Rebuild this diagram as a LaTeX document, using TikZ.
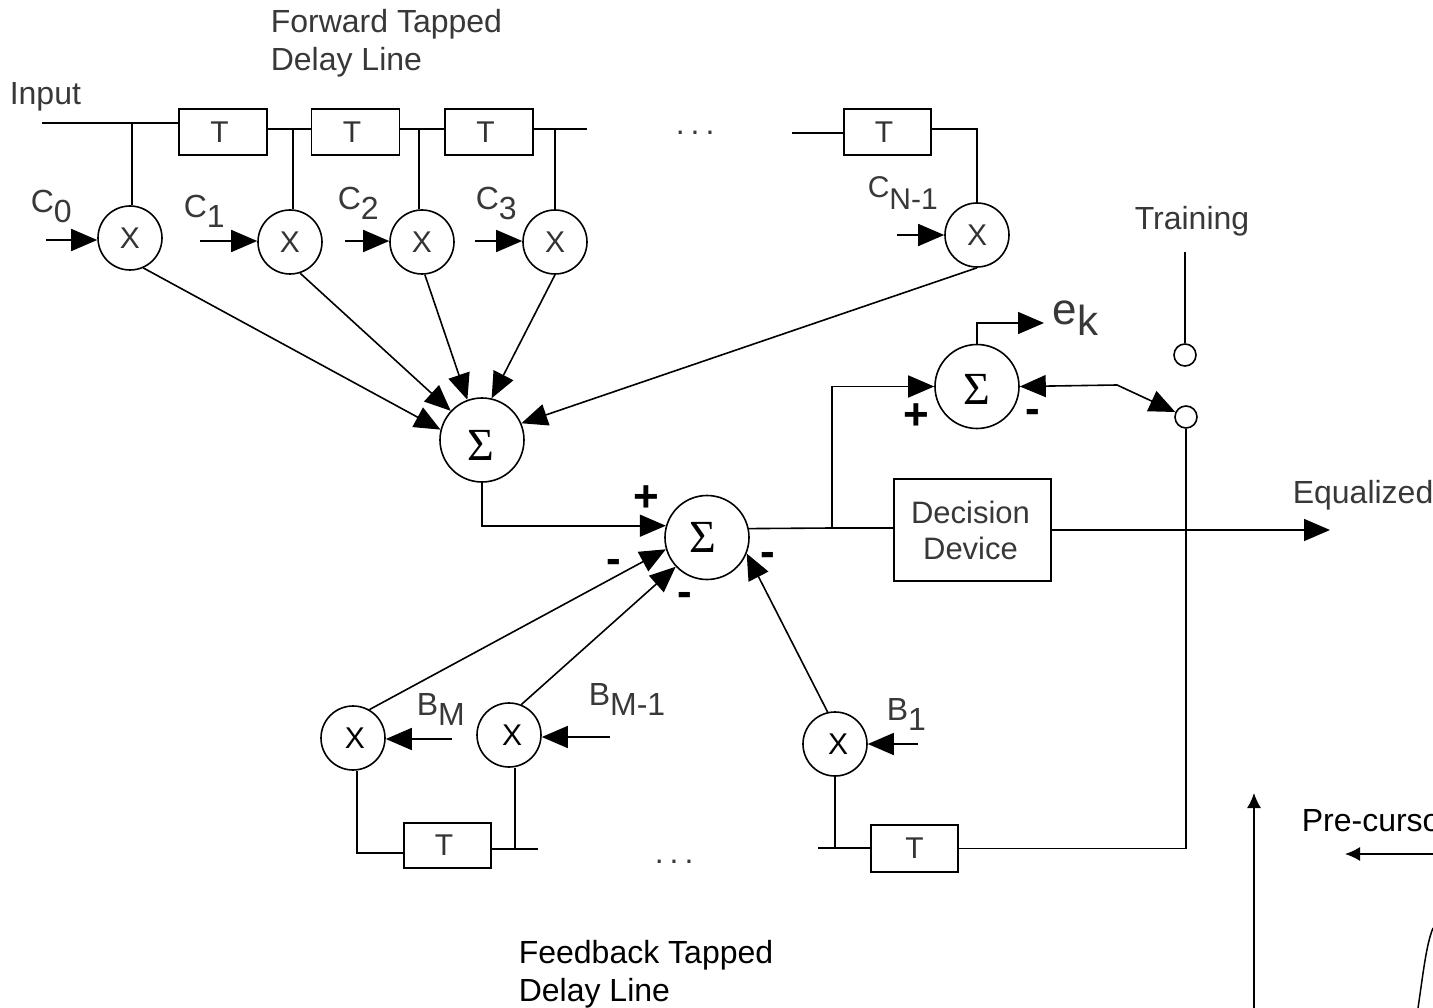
\documentclass[tikz,border=0pt]{standalone}
\usepackage{fontspec}
\setmainfont{Liberation Sans}
\newfontfamily\sigmafont{Liberation Serif}
\usepackage{xcolor}
\usetikzlibrary{arrows.meta,positioning,calc}
\newcommand{\lowr}[2]{#1\raisebox{-10pt}{#2}}
\newcommand{\fsz}[1]{\fontsize{#1}{#1}\selectfont}
\newcommand{\tsym}{T\kern7pt}
\newcommand{\dotrow}{.\kern6pt.\kern6pt.}
\tikzset{
  mulnode/.style={circle, draw, minimum size=64pt, inner sep=0pt, text=black!80, font=\fsz{30}},
  sumnode/.style={circle, draw, minimum size=84pt, inner sep=0pt, font=\sigmafont\fsz{46}},
  delaynode/.style={rectangle, draw, minimum width=88pt, minimum height=46pt, inner sep=0pt, text=black!80, font=\fsz{30}},
  swnode/.style={circle, draw, minimum size=22pt, inner sep=0pt},
  lbl/.style={inner sep=0pt, anchor=base west, text=black!78, font=\fsz{32}},
  blklbl/.style={inner sep=0pt, anchor=base west, text=black, font=\fsz{32}},
  signlbl/.style={inner sep=0pt, font=\bfseries\fsz{44}},
  thinarrow/.style={-{Latex[length=15pt,width=14pt]}, line width=1.5pt}
}
\begin{document}
\begin{tikzpicture}[>={Triangle[length=26pt,width=22pt]}, line width=1.6pt, x=1pt, y=-1pt]
  \clip[use as bounding box] (0,0) rectangle (1433,1008);
  % forward delay line
  \node[delaynode] (ta) at (223,132) {\tsym};
  \node[delaynode] (tb) at (355.5,132) {\tsym};
  \node[delaynode] (tc) at (489,132) {\tsym};
  \node[delaynode, minimum width=87pt] (td) at (887.5,132) {\tsym};
  \coordinate (inp) at (42,123);
  \coordinate (tapa) at (132,123);
  \coordinate (tapb) at (293,129);
  \coordinate (tapc) at (419,129);
  \coordinate (tapd) at (555,129);
  \coordinate (tapn) at (977,129);
  \coordinate (enda) at (587,129);
  \coordinate (endb) at (792,133);
  % forward multipliers
  \node[mulnode] (ma) at (130,238) {X};
  \node[mulnode] (mb) at (290,242) {X};
  \node[mulnode] (mc) at (422,242) {X};
  \node[mulnode] (md) at (555,242) {X};
  \node[mulnode] (mn) at (977,235) {X};
  \coordinate (ca) at (46,240);
  \coordinate (cb) at (200,241);
  \coordinate (cc) at (345,241);
  \coordinate (cd) at (475,241);
  \coordinate (cn) at (897,235);
  % summers and decision
  \node[sumnode] (sumf) at (482,440) {\raisebox{-5pt}[\height][0pt]{Σ}\kern3pt};
  \node[sumnode] (summ) at (707,537.5) {Σ\kern8pt};
  \node[sumnode] (sume) at (977,386.5) {\raisebox{-3pt}[\height][0pt]{Σ}};
  \node[rectangle, draw, minimum width=157pt, minimum height=102pt, inner sep=0pt, align=center,
    text=black!78, font=\fontsize{31}{36}\selectfont] (dec) at (972.5,530) {Decision\kern4pt\\Device\kern4pt};
  \node[swnode] (swa) at (1185,355) {};
  \node[swnode] (swb) at (1186,417) {};
  % feedback part
  \node[mulnode, text=black] (fm) at (353,738) {\kern4pt X};
  \node[mulnode, text=black] (fl) at (509,735) {\kern6pt X};
  \node[mulnode, text=black] (fa) at (835,744) {\kern6pt X};
  \node[delaynode, minimum width=87pt, minimum height=45pt] (tf) at (447.5,845.5) {\tsym};
  \node[delaynode, minimum width=87pt, minimum height=47pt] (tg) at (914.5,848.5) {T};
  \coordinate (bm) at (452,739);
  \coordinate (bl) at (610,737);
  \coordinate (ba) at (918,744);
  \coordinate (lfa) at (357,853);
  \coordinate (lfb) at (515,849);
  \coordinate (lfc) at (538,849);
  \coordinate (lfd) at (818,848);
  \coordinate (lfe) at (835,848);
  \coordinate (jn) at (832,528);
  \coordinate (bend) at (1117,385);
  \coordinate (outp) at (1330,530);
  \coordinate (trn) at (1185,252);
  \coordinate (ekt) at (1044,323);
  % forward lines
  \draw (inp) -- (inp -| ta.west);
  \draw (tapa) -- (tapa |- ma.north);
  \draw (ta.east |- tapb) -- (tb.west |- tapb);
  \draw (tb.east |- tapc) -- (tc.west |- tapc);
  \draw (tc.east |- tapd) -- (enda);
  \draw (endb) -- (endb -| td.west);
  \draw (td.east |- tapn) -- (tapn) -- (mn.north);
  \draw (tapb) -- (tapb |- mb.north);
  \draw (tapc) -- (tapc |- mc.north);
  \draw (tapd) -- (md.north);
  \draw[->] (ca) -- (ca -| ma.west);
  \draw[->] (cb) -- (cb -| mb.west);
  \draw[->] (cc) -- (cc -| mc.west);
  \draw[->] (cd) -- (cd -| md.west);
  \draw[->] (cn) -- (mn.west);
  \draw[->] (ma.-66) -- (sumf.166);
  \draw[->] (mb.-72) -- (sumf.137);
  \draw[->] (mc.-85) -- (sumf.110);
  \draw[->] (md.south) -- (sumf.77);
  \draw[->] (mn.south) -- (sumf.23);
  % middle lines
  \draw[->] (sumf.south) |- (summ.164);
  \draw (summ.12) -- (jn) -- (jn -| dec.west);
  \draw[->] (jn) |- (sume.west);
  \draw[->] (dec.east) -- (outp);
  \draw[->] (sume.north) |- (ekt);
  \draw[<->] (sume.east) -- (bend) -- (swb.155);
  \draw (trn) -- (swa.north);
  \draw (swb.south) |- (tg.east);
  % feedback lines
  \draw[->] (fm.60) -- (summ.196);
  \draw[->] (fl.68) -- (summ.223);
  \draw[->] (fa.103) -- (summ.-22);
  \draw[->] (bm) -- (bm -| fm.east);
  \draw[->] (bl) -- (bl -| fl.east);
  \draw[->] (ba) -- (fa.east);
  \draw (lfa |- fm.south) -- (lfa) -- (lfa -| tf.west);
  \draw (tf.east |- lfb) -- (lfc);
  \draw (lfb |- fl.south) -- (lfb);
  \draw (lfd) -- (lfd -| tg.west);
  \draw (fa.south) -- (lfe);
  % labels
  \node[lbl] (lfw) at (270,33) {Forward Tapped};
  \node[lbl] (ldl) at (270,71) {Delay Line};
  \node[lbl] (linp) at (9,105) {Input};
  \node[lbl] (lca) at (30,213) {\lowr{C}{0}};
  \node[lbl] (lcb) at (183,218) {\lowr{C}{1}};
  \node[lbl] (lcc) at (337,210) {\lowr{C}{2}};
  \node[lbl] (lcd) at (475,210) {\lowr{C}{3}};
  \node[lbl, font=\fsz{30}] (lcn) at (867,198) {C\raisebox{-12pt}{N-1}};
  \node[lbl] (ltr) at (1134,230) {Training};
  \node[lbl, font=\fsz{44}] (lek) at (1052,325) {e\raisebox{-11pt}{\fsz{42}k}};
  \node[lbl] (leq) at (1292,503) {Equalized};
  \node[lbl] (lbm) at (416,715) {\lowr{B}{M}};
  \node[lbl] (lbl) at (588,705) {\lowr{B}{M-1}};
  \node[lbl] (lba) at (886,720) {\lowr{B}{1}};
  \node[lbl] (dota) at (675,135) {\dotrow};
  \node[lbl] (dotb) at (654,863) {\dotrow};
  \node[signlbl] (spa) at (646,499) {+};
  \node[signlbl] (sma) at (614,566) {-};
  \node[signlbl] (smb) at (685,599) {-};
  \node[signlbl] (smc) at (768,559) {-};
  \node[signlbl] (spb) at (916,417) {+};
  \node[signlbl] (smd) at (1033,416) {-};
  \node[blklbl] (lfb) at (518,963) {Feedback Tapped};
  \node[blklbl] (ldb) at (518,1001) {Delay Line};
  \node[blklbl] (lpc) at (1301,831) {Pre-cursor};
  % axis corner
  \coordinate (axb) at (1254,1008);
  \coordinate (axt) at (1254,793);
  \coordinate (pca) at (1433,854);
  \coordinate (pcb) at (1345,854);
  \draw[thinarrow] (axb) -- (axt);
  \draw[thinarrow] (pca) -- (pcb);
  \draw[line width=1.5pt] (1418,1008) .. controls (1423,975) and (1426,945) .. (1433,928);
\end{tikzpicture}
\end{document}
